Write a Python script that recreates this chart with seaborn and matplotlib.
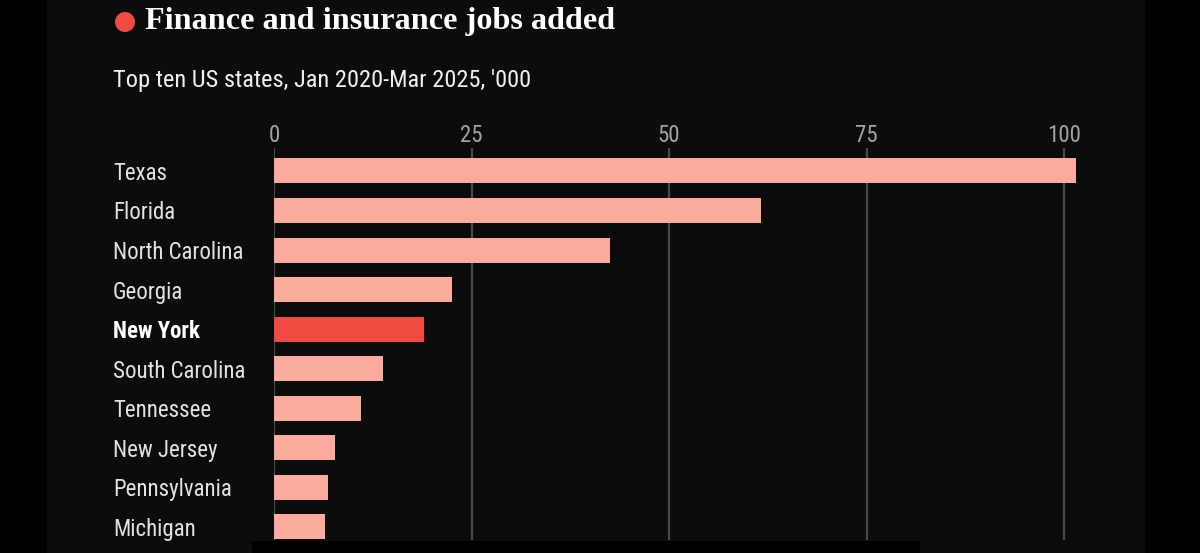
import matplotlib
matplotlib.use("Agg")
import matplotlib.pyplot as plt
import matplotlib.patches as mpatches
from matplotlib import font_manager
import seaborn as sns
import pandas as pd

# 数据
states = ["Texas", "Florida", "North Carolina", "Georgia", "New York",
          "South Carolina", "Tennessee", "New Jersey", "Pennsylvania", "Michigan"]
jobs = [101.5, 61.6, 42.5, 22.5, 19.0, 13.8, 11.0, 7.7, 6.8, 6.5]
highlight = "New York"
x_ticks = [0, 25, 50, 75, 100]

title = "Finance and insurance jobs added"
subtitle = "Top ten US states, Jan 2020-Mar 2025, '000"

PINK = "#fbab9c"
RED = "#f04a42"

# 选一个窄字体（没有就退回普通无衬线）
installed = {f.name for f in font_manager.fontManager.ttflist}
narrow_name = "Liberation Sans"
for cand in ["Liberation Sans Narrow", "Roboto Condensed", "Open Sans Condensed",
             "DejaVu Sans Condensed", "Noto Sans Condensed"]:
    if cand in installed:
        narrow_name = cand
        break
is_narrow = narrow_name != "Liberation Sans"
narrow = [narrow_name, "DejaVu Sans"]
lab_size = 16.5 if is_narrow else 14.5
sub_size = 17.6 if is_narrow else 15

sns.set_theme(style="dark")
plt.rcParams["font.family"] = narrow

df = pd.DataFrame({"state": states, "jobs": jobs})
palette = {s: (RED if s == highlight else PINK) for s in states}

fig = plt.figure(figsize=(12, 5.53), dpi=100, facecolor="black")

# 面板背景
fig.add_artist(mpatches.Rectangle((0.47, 0), 10.98, 5.53, transform=fig.dpi_scale_trans,
                                  facecolor="#0c0c0c", edgecolor="none", zorder=-10))

ax = fig.add_axes([274 / 1200, 13 / 553, (1103.5 - 274) / 1200, (540 - 148) / 553])
ax.set_facecolor("none")

sns.barplot(data=df, x="jobs", y="state", hue="state", palette=palette,
            legend=False, width=0.63, saturation=1, linewidth=0, ax=ax, zorder=3)

ax.set_xlim(0, 105)
ax.set_ylim(9.33, -0.58)
ax.set_xticks(x_ticks)
ax.xaxis.tick_top()
ax.tick_params(axis="x", length=0, pad=1, labelsize=lab_size, labelcolor="#a4a4a4")
ax.tick_params(axis="y", length=0, pad=116, labelsize=lab_size, labelcolor="#e2e2e2")
for lab in ax.get_yticklabels():
    lab.set_horizontalalignment("left")
    if lab.get_text() == highlight:
        lab.set_fontweight("bold")
        lab.set_color("white")

ax.grid(axis="x", color="#4a4a4a", linewidth=1.6)
ax.grid(axis="y", visible=False)
ax.set_axisbelow(True)
for sp in ax.spines.values():
    sp.set_visible(False)
ax.set_xlabel("")
ax.set_ylabel("")

# 标题
fig.add_artist(mpatches.Circle((1.25, 5.31), 0.10, transform=fig.dpi_scale_trans,
                               facecolor=RED, edgecolor="none"))
fig.text(145 / 1200, 1 - 22 / 553, title, family=["Liberation Serif", "DejaVu Serif"],
         fontweight="bold", fontsize=23.2, color="white", va="center", ha="left")
fig.text(113 / 1200, 1 - 80 / 553, subtitle, family=narrow,
         fontsize=sub_size, color="#f0f0f0", va="center", ha="left")

# 底部遮挡条
fig.add_artist(mpatches.Rectangle((2.52, 0), 6.68, 0.12, transform=fig.dpi_scale_trans,
                                  facecolor="black", edgecolor="none", zorder=10))

fig.savefig("out.png", dpi=100, facecolor=fig.get_facecolor())
